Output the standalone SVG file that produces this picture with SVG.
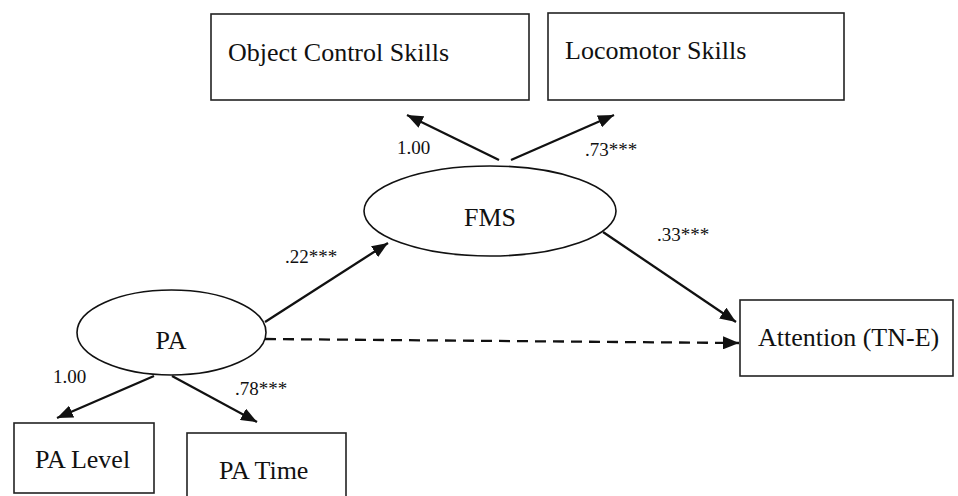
<svg xmlns="http://www.w3.org/2000/svg" width="958" height="496" viewBox="0 0 958 496">
  <style>
    .box { fill: #fff; stroke: #222; stroke-width: 1.6; }
    .ell { fill: #fff; stroke: #111; stroke-width: 1.6; }
    .lbl { font-family: "Liberation Serif", "Times New Roman", serif; fill: #111; }
    .node { font-size: 26px; }
    .coef { font-size: 19px; }
    .edge { stroke: #111; stroke-width: 2.3; fill: none; marker-end: url(#ah); }
    .dash { stroke-dasharray: 11 7; }
  </style>
  <defs>
    <marker id="ah" markerUnits="userSpaceOnUse" markerWidth="17" markerHeight="13" refX="16" refY="6.5" orient="auto">
      <path d="M0,0 L16,6.5 L0,13 z" fill="#111"/>
    </marker>
  </defs>
  <rect width="958" height="496" fill="#fff"/>

  <g id="connectors">
    <line class="edge" x1="499" y1="160" x2="407" y2="115"/>
    <line class="edge" x1="511" y1="160" x2="614" y2="115"/>
    <line class="edge" x1="265" y1="322" x2="388" y2="243"/>
    <line class="edge" x1="603" y1="232" x2="736" y2="322"/>
    <line class="edge dash" x1="265" y1="339" x2="739" y2="343"/>
    <line class="edge" x1="154" y1="376" x2="57" y2="418"/>
    <line class="edge" x1="172" y1="376" x2="257" y2="422"/>
  </g>

  <g id="object-control">
    <rect class="box" x="211" y="14" width="318" height="86"/>
    <text class="lbl node" x="228" y="61">Object Control Skills</text>
  </g>
  <g id="locomotor">
    <rect class="box" x="548" y="13" width="296" height="87"/>
    <text class="lbl node" x="565" y="59">Locomotor Skills</text>
  </g>
  <g id="fms">
    <ellipse class="ell" cx="490" cy="211" rx="126" ry="45"/>
    <text class="lbl node" x="490" y="226" text-anchor="middle">FMS</text>
  </g>
  <g id="pa">
    <ellipse class="ell" cx="171.5" cy="332.5" rx="94.5" ry="42.5"/>
    <text class="lbl node" x="171" y="349" text-anchor="middle">PA</text>
  </g>
  <g id="attention">
    <rect class="box" x="740" y="300" width="213" height="76"/>
    <text class="lbl node" x="758" y="346">Attention (TN-E)</text>
  </g>
  <g id="pa-level">
    <rect class="box" x="14" y="423" width="140" height="70"/>
    <text class="lbl node" x="35" y="468">PA Level</text>
  </g>
  <g id="pa-time">
    <rect class="box" x="187" y="433" width="159" height="70"/>
    <text class="lbl node" x="219" y="479">PA Time</text>
  </g>

  <g id="coefficients">
    <text class="lbl coef" x="397" y="154">1.00</text>
    <text class="lbl coef" x="585" y="156">.73***</text>
    <text class="lbl coef" x="285" y="263">.22***</text>
    <text class="lbl coef" x="657" y="241">.33***</text>
    <text class="lbl coef" x="53" y="383">1.00</text>
    <text class="lbl coef" x="235" y="395">.78***</text>
  </g>
</svg>
